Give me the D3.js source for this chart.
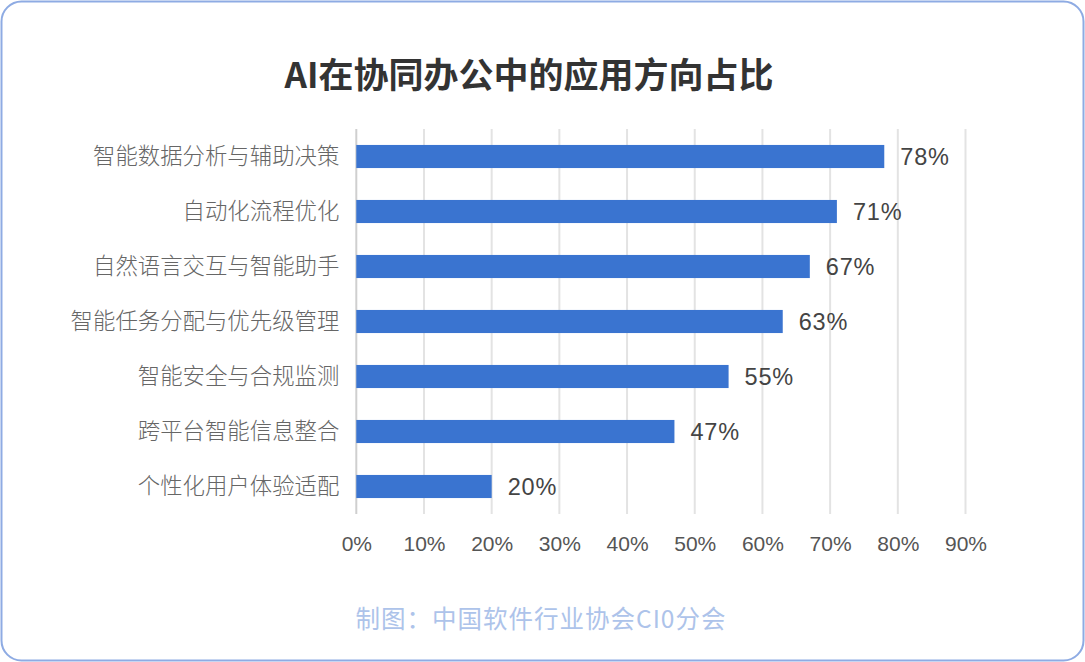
<!DOCTYPE html>
<html><head><meta charset="utf-8">
<script src="https://cdn.jsdelivr.net/npm/d3@7"></script>
<style>html,body{margin:0;padding:0;background:#fff;}svg{display:block;}</style>
</head><body>
<script>
const title = "AI在协同办公中的应用方向占比";
const source = "制图：中国软件行业协会CI0分会";
const categories = ["智能数据分析与辅助决策","自动化流程优化","自然语言交互与智能助手","智能任务分配与优先级管理","智能安全与合规监测","跨平台智能信息整合","个性化用户体验适配"];
const values = [78, 71, 67, 63, 55, 47, 20];
const ticks = [0,10,20,30,40,50,60,70,80,90];

const W = 1085, H = 662;
const svg = d3.select("body").append("svg").attr("width", W).attr("height", H);

svg.append("rect").attr("x",1.5).attr("y",1.5).attr("width",W-3).attr("height",H-3)
  .attr("rx",20).attr("ry",20).attr("fill","#fff").attr("stroke","#8eabe3").attr("stroke-width",2);

svg.append("text").attr("x",529).attr("y",88).attr("text-anchor","middle")
  .attr("font-family","'Noto Sans CJK SC','Noto Sans',sans-serif").attr("font-weight",700)
  .attr("font-size",35).attr("fill","#333").text(title);

const x = d3.scaleLinear().domain([0,90]).range([356.3,965.5]);
const y = d3.scaleBand().domain(categories).range([129,514]).paddingInner(0.58).paddingOuter(0.29);

const grid = svg.append("g");
grid.selectAll("line").data(ticks).join("line")
  .attr("x1",d=>x(d)).attr("x2",d=>x(d)).attr("y1",129).attr("y2",514)
  .attr("stroke",d=>d===0?"#cfcfcf":"#e3e3e3").attr("stroke-width",2);

const xAxis = d3.axisBottom(x).tickValues(ticks).tickFormat(d=>d+"%").tickSize(0).tickPadding(0);
const gx = svg.append("g").attr("transform","translate(0,551)").call(xAxis);
gx.select(".domain").remove();
gx.selectAll("text").attr("font-family","'Liberation Sans',Arial,sans-serif").attr("font-size",21)
  .attr("fill","#555").attr("dy",0);

svg.append("g").selectAll("rect").data(values).join("rect")
  .attr("x",x(0)).attr("y",(d,i)=>y(categories[i]))
  .attr("width",d=>x(d)-x(0)).attr("height",y.bandwidth())
  .attr("fill","#3a74d0");

svg.append("g").selectAll("text").data(values).join("text")
  .attr("x",d=>x(d)+16).attr("y",(d,i)=>y(categories[i])+y.bandwidth()/2+8.5)
  .attr("font-family","'Liberation Sans',Arial,sans-serif").attr("font-size",23.5)
  .attr("letter-spacing",0.8).attr("fill","#444").text(d=>d+"%");

const yAxis = d3.axisLeft(y).tickSize(0).tickPadding(17);
const gy = svg.append("g").attr("transform",`translate(${x(0)},0)`).call(yAxis);
gy.select(".domain").remove();
gy.selectAll("text").attr("font-family","'Noto Sans CJK SC',sans-serif").attr("font-weight",300)
  .attr("font-size",22.4).attr("fill","#666");

svg.append("text").attr("x",541).attr("y",628).attr("text-anchor","middle")
  .attr("font-family","'Noto Sans CJK SC','Noto Sans',sans-serif").attr("font-size",24.5)
  .attr("letter-spacing",1).attr("fill","#adc3ea").text(source);
</script>
</body></html>
